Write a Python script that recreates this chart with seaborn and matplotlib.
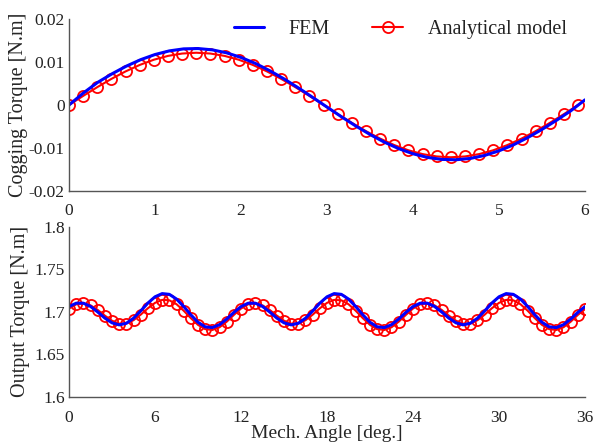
import numpy as np
import pandas as pd
import matplotlib
matplotlib.use("Agg")
import matplotlib.pyplot as plt
import seaborn as sns

# cogging torque, 0..6 deg
cog_fem_x = np.linspace(0, 6, 37)
cog_fem = [0.0, 0.0028, 0.00528, 0.00728, 0.00907, 0.01058, 0.01178, 0.01263, 0.0131,
           0.01318, 0.01287, 0.01217, 0.0111, 0.00971, 0.00802, 0.0061, 0.004, 0.00178,
           -0.00048, -0.00273, -0.00488, -0.00688, -0.00867, -0.01018, -0.01138, -0.01223,
           -0.0127, -0.01278, -0.01247, -0.01177, -0.0107, -0.00931, -0.00762, -0.0057,
           -0.0036, -0.00138, 0.0012]
cog_ana_x = np.linspace(0, 5.92, 37)
cog_ana = [0.0, 0.00212, 0.00417, 0.0061, 0.00784, 0.00935, 0.01057, 0.01146, 0.01201,
           0.0122, 0.01201, 0.01146, 0.01057, 0.00935, 0.00784, 0.0061, 0.00417, 0.00212,
           0.0, -0.00212, -0.00417, -0.0061, -0.00784, -0.00935, -0.01057, -0.01146,
           -0.01201, -0.0122, -0.01201, -0.01146, -0.01057, -0.00935, -0.00784, -0.0061,
           -0.00417, -0.00212, 0.0]

# output torque, 0..36 deg
out_x = np.linspace(0, 36, 73)
out_fem = [1.7060, 1.7100, 1.7100, 1.7062, 1.6997, 1.6925, 1.6869, 1.6845, 1.6864, 1.6923,
           1.7009, 1.7101, 1.7175, 1.7213, 1.7204, 1.7149, 1.7062, 1.6963, 1.6876, 1.6822,
           1.6813, 1.6847, 1.6913, 1.6991,
           1.7060, 1.7100, 1.7100, 1.7062, 1.6997, 1.6925, 1.6869, 1.6845, 1.6864, 1.6923,
           1.7009, 1.7101, 1.7175, 1.7213, 1.7204, 1.7149, 1.7062, 1.6963, 1.6876, 1.6822,
           1.6813, 1.6847, 1.6913, 1.6991,
           1.7060, 1.7100, 1.7100, 1.7062, 1.6997, 1.6925, 1.6869, 1.6845, 1.6864, 1.6923,
           1.7009, 1.7101, 1.7175, 1.7213, 1.7204, 1.7149, 1.7062, 1.6963, 1.6876, 1.6822,
           1.6813, 1.6847, 1.6913, 1.6991, 1.7060]
out_ana = [1.7037, 1.7087, 1.7100, 1.7075, 1.7021, 1.6954, 1.6894, 1.6860, 1.6861, 1.6900,
           1.6965, 1.7040, 1.7104, 1.7139, 1.7134, 1.7088, 1.7012, 1.6924, 1.6845, 1.6795,
           1.6785, 1.6817, 1.6882, 1.6962,
           1.7037, 1.7087, 1.7100, 1.7075, 1.7021, 1.6954, 1.6894, 1.6860, 1.6861, 1.6900,
           1.6965, 1.7040, 1.7104, 1.7139, 1.7134, 1.7088, 1.7012, 1.6924, 1.6845, 1.6795,
           1.6785, 1.6817, 1.6882, 1.6962,
           1.7037, 1.7087, 1.7100, 1.7075, 1.7021, 1.6954, 1.6894, 1.6860, 1.6861, 1.6900,
           1.6965, 1.7040, 1.7104, 1.7139, 1.7134, 1.7088, 1.7012, 1.6924, 1.6845, 1.6795,
           1.6785, 1.6817, 1.6882, 1.6962, 1.7030]

top_xticks = [0, 1, 2, 3, 4, 5, 6]
top_yticks = [-0.02, -0.01, 0, 0.01, 0.02]
top_ylabels = ["-0.02", "-0.01", "0", "0.01", "0.02"]
bot_xticks = [0, 6, 12, 18, 24, 30, 36]
bot_yticks = [1.6, 1.65, 1.7, 1.75, 1.8]
bot_ylabels = ["1.6", "1.65", "1.7", "1.75", "1.8"]

sns.set_style("white")
plt.rcParams["font.family"] = ["Liberation Serif", "DejaVu Serif"]
plt.rcParams["text.color"] = "#222222"

fig = plt.figure(figsize=(5.96, 4.45), dpi=100)
ax1 = fig.add_axes([0.1158, 0.5715, 0.8657, 0.3851])
ax2 = fig.add_axes([0.1158, 0.1085, 0.8657, 0.3821])

ana_kw = dict(color="#ff0000", lw=1.5, marker="o", markersize=8,
              markerfacecolor="none", markeredgecolor="#ff0000", markeredgewidth=1.3)
fem_kw = dict(color="#0000ff", lw=2.2)

def draw(ax, fx, fy, axx, ay):
    df_f = pd.DataFrame({"x": fx, "y": fy})
    df_a = pd.DataFrame({"x": axx, "y": ay})
    # red first so the blue FEM line sits on top
    sns.lineplot(data=df_a, x="x", y="y", ax=ax, label="Analytical model",
                 sort=False, estimator=None, **ana_kw)
    sns.lineplot(data=df_f, x="x", y="y", ax=ax, label="FEM",
                 sort=False, estimator=None, **fem_kw)

draw(ax1, cog_fem_x, cog_fem, cog_ana_x, cog_ana)
draw(ax2, out_x, out_fem, out_x, out_ana)

for ax in (ax1, ax2):
    sns.despine(ax=ax)
    for s in ("left", "bottom"):
        ax.spines[s].set_color("#555555")
        ax.spines[s].set_linewidth(1.0)
    ax.tick_params(direction="in", length=4, width=0.8, color="#555555",
                   labelsize=12.5, labelcolor="#222222")
    ax.tick_params(axis="y", pad=3)

ax1.set_xlim(0, 6)
ax1.set_ylim(-0.02, 0.02)
ax1.set_xticks(top_xticks)
ax1.set_yticks(top_yticks)
ax1.set_yticklabels(top_ylabels)
ax1.tick_params(axis="x", pad=9)
ax1.set_xlabel("")
ax1.set_ylabel("Cogging Torque [N.m]", fontsize=14.5)
ax1.yaxis.set_label_coords(-0.079, 0.5)

ax2.set_xlim(0, 36)
ax2.set_ylim(1.6, 1.8)
ax2.set_xticks(bot_xticks)
ax2.set_yticks(bot_yticks)
ax2.set_yticklabels(bot_ylabels)
ax2.tick_params(axis="x", pad=9.5)
ax2.set_xlabel("Mech. Angle [deg.]", fontsize=14, labelpad=-0.5)
ax2.set_ylabel("Output Torque [N.m]", fontsize=14.5)
ax2.yaxis.set_label_coords(-0.076, 0.5)

ax2.get_legend().remove()
h, l = ax1.get_legend_handles_labels()
ax1.get_legend().remove()
ax1.legend(h[::-1], l[::-1], ncol=2, frameon=False, fontsize=14.5,
           loc="upper right", bbox_to_anchor=(1.0, 1.104),
           handlelength=1.5, handletextpad=1.25, columnspacing=2.1)

fig.savefig("out.png", dpi=100)
